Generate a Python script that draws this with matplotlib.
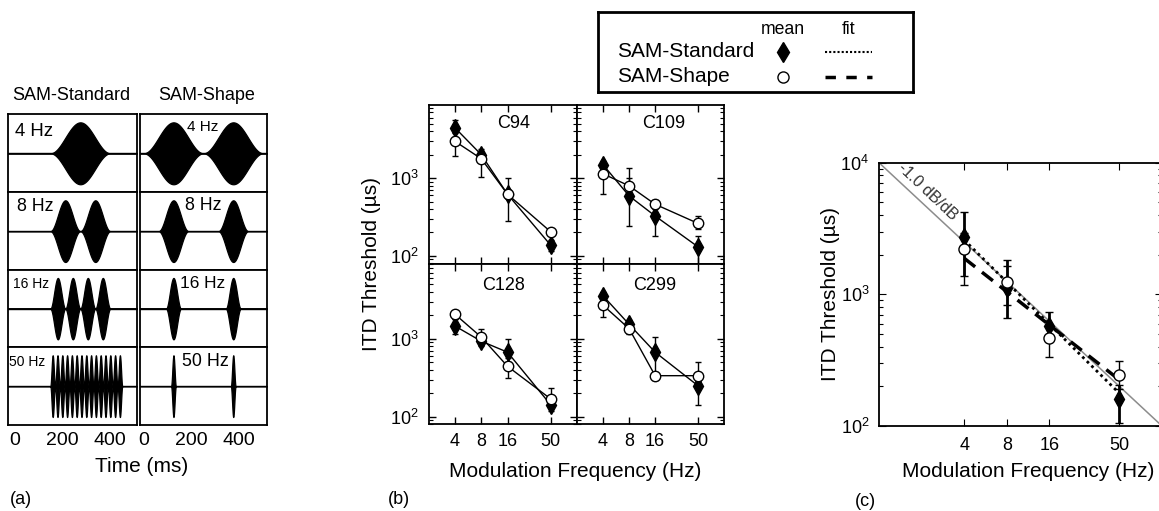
import numpy as np
import matplotlib
matplotlib.use("Agg")
import matplotlib.pyplot as plt
from matplotlib.ticker import FixedLocator, NullLocator, NullFormatter, FixedFormatter, LogLocator

plt.rcParams['font.family'] = ['Liberation Sans', 'DejaVu Sans']
plt.rcParams['mathtext.default'] = 'regular'

W, H = 1159, 511

# ---- panel (a): stimulus parameters ----
rates = [4, 8, 16, 50]
rate_labels = ['4 Hz', '8 Hz', '16 Hz', '50 Hz']
std_onset = 150          # ms
std_cycles = [1, 2, 4, 15]
shape_centers = [125, 375]  # ms

# ---- panel (b): per-subject ITD thresholds (us) ----
freqs = [4, 8, 16, 50]
subjects = ['C94', 'C109', 'C128', 'C299']

std_mean = {'C94': [4430, 2000, 620, 137], 'C109': [1486, 590, 326, 131],
            'C128': [1455, 930, 672, 142], 'C299': [3550, 1530, 672, 250]}
std_lo = {'C94': [3800, 1700, 560, 115], 'C109': [1300, 242, 180, 70],
          'C128': [1150, 800, 500, 120], 'C299': [3100, 1300, 336, 142]}
std_hi = {'C94': [5660, 2370, 700, 160], 'C109': [1650, 1345, 420, 180],
          'C128': [1800, 1050, 990, 160], 'C299': [4000, 1750, 1060, 290]}

shp_mean = {'C94': [2970, 1775, 620, 204], 'C109': [1136, 795, 461, 262],
            'C128': [2060, 1050, 443, 169], 'C299': [2690, 1347, 336, 336]}
shp_lo = {'C94': [1900, 1030, 285, 185], 'C109': [627, 600, 400, 220],
          'C128': [1800, 900, 313, 150], 'C299': [1900, 1150, 300, 290]}
shp_hi = {'C94': [3400, 2100, 1000, 225], 'C109': [1300, 1000, 520, 326],
          'C128': [2300, 1320, 560, 237], 'C299': [3000, 1500, 380, 499]}

# ---- panel (c): group means ----
c_std_mean = [2750, 1110, 575, 161]
c_std_lo = [1380, 658, 450, 106]
c_std_hi = [4250, 1823, 740, 205]
c_shp_mean = [2200, 1250, 465, 244]
c_shp_lo = [1178, 830, 336, 190]
c_shp_hi = [2900, 1650, 600, 314]
fit_x = [4, 50]
c_std_fit = [2590, 177]
c_shp_fit = [1880, 224]
ref_x = [1, 100]
ref_y = [1e4, 1e2]


def box(x0, y0, x1, y1):
    return [x0 / W, 1 - y1 / H, (x1 - x0) / W, (y1 - y0) / H]


def ftext(x, y, s, **kw):
    fig.text(x / W, 1 - y / H, s, **kw)


fig = plt.figure(figsize=(W / 100, H / 100), dpi=100)

# ================= panel (a) =================
rows_a = [(114.3, 192.3), (192.3, 270), (270, 347.3), (347.3, 425)]
cols_a = [(8.3, 136.7), (140, 266.7)]
xlims_a = [(-25, 510), (-15, 515)]
t = np.linspace(-30, 520, 30000)

for c, (x0, x1) in enumerate(cols_a):
    for r, (y0, y1) in enumerate(rows_a):
        ax = fig.add_axes(box(x0, y0, x1, y1))
        f = rates[r]
        env = np.zeros_like(t)
        if c == 0:
            t_end = std_onset + std_cycles[r] * 1000.0 / f
            m = (t >= std_onset) & (t <= t_end)
            env[m] = (1 - np.cos(2 * np.pi * f * (t[m] - std_onset) / 1000)) / 2
        else:
            for tc in shape_centers:
                m = np.abs(t - tc) <= 500.0 / f
                env[m] = (1 + np.cos(2 * np.pi * f * (t[m] - tc) / 1000)) / 2
        ax.fill_between(t, -env, env, color='k', lw=0.9)
        ax.axhline(0, color='k', lw=1)
        ax.set_xlim(*xlims_a[c])
        ax.set_ylim(-1.26, 1.26)
        ax.set_yticks([])
        ax.tick_params(length=0, labelsize=14, pad=5)
        if r == 3:
            ax.set_xticks([0, 200, 400])
        else:
            ax.set_xticks([])
        for s in ax.spines.values():
            s.set_linewidth(1.3)

# rate labels in panel (a)
left_lab = [(15, 131.7, 13.4), (16.7, 206.7, 12.8), (13.3, 284, 10), (9.3, 361.7, 10)]
right_lab = [(202.5, 126.7, 11), (203.3, 205.7, 12.8), (202.5, 283.3, 12.4), (205, 361.7, 12.9)]
for lab, (x, y, fs) in zip(rate_labels, left_lab):
    ftext(x, y, lab, fontsize=fs, ha='left', va='center')
for lab, (x, y, fs) in zip(rate_labels, right_lab):
    ftext(x, y, lab, fontsize=fs, ha='center', va='center')

ftext(70.8, 95, 'SAM-Standard', fontsize=13, ha='center', va='center')
ftext(206.5, 95, 'SAM-Shape', fontsize=13, ha='center', va='center')
ftext(141.7, 466, 'Time (ms)', fontsize=15, ha='center', va='center')
ftext(10, 499, '(a)', fontsize=13, ha='left', va='center')

# ================= panel (b) =================
cols_b = [(428.7, 577), (577, 724)]
rows_b = [(105, 264.3), (264.3, 424.3)]
ylims_b = [(78, 8700), (80, 9000)]
name_pos = {'C94': (0.57, 0.885), 'C109': (0.587, 0.885),
            'C128': (0.503, 0.87), 'C299': (0.53, 0.87)}

for i, subj in enumerate(subjects):
    r, c = divmod(i, 2)
    ax = fig.add_axes(box(cols_b[c][0], rows_b[r][0], cols_b[c][1], rows_b[r][1]))
    ax.set_xscale('log')
    ax.set_yscale('log')
    for mean, lo, hi, mk, fc, ms in [(std_mean[subj], std_lo[subj], std_hi[subj], 'd', 'k', 9),
                                     (shp_mean[subj], shp_lo[subj], shp_hi[subj], 'o', 'white', 7.5)]:
        mean = np.array(mean, float)
        err = [mean - np.array(lo), np.array(hi) - mean]
        ax.errorbar(freqs, mean, yerr=err, fmt='none', ecolor='k', elinewidth=1, capsize=2, capthick=1)
        ax.plot(freqs, mean, color='k', lw=1, marker=mk, ms=ms, mfc=fc, mec='k', mew=1)
    ax.set_xlim(2, 100)
    ax.set_ylim(*ylims_b[r])
    ax.xaxis.set_major_locator(FixedLocator(freqs))
    ax.xaxis.set_major_formatter(FixedFormatter([str(f) for f in freqs]))
    ax.xaxis.set_minor_locator(NullLocator())
    ax.yaxis.set_major_locator(LogLocator(base=10))
    ax.yaxis.set_minor_locator(LogLocator(base=10, subs=np.arange(2, 10)))
    ax.yaxis.set_minor_formatter(NullFormatter())
    ax.tick_params(which='both', direction='in', top=True, right=True, labelsize=13)
    ax.tick_params(which='major', length=5, width=1)
    ax.tick_params(which='minor', length=3, width=0.8)
    ax.tick_params(axis='x', pad=6)
    ax.tick_params(axis='y', pad=7)
    if r == 0:
        ax.tick_params(labelbottom=False)
    if c == 1:
        ax.tick_params(labelleft=False)
    for s in ax.spines.values():
        s.set_linewidth(1.3)
    ax.text(*name_pos[subj], subj, transform=ax.transAxes, fontsize=13, ha='center', va='center')

ftext(371.7, 264.3, 'ITD Threshold (µs)', fontsize=15, rotation=90, ha='center', va='center')
ftext(575, 471.7, 'Modulation Frequency (Hz)', fontsize=15, ha='center', va='center')
ftext(388, 500, '(b)', fontsize=13, ha='left', va='center')

# ================= panel (c) =================
axc = fig.add_axes(box(879, 162.7, 1162, 426))
axc.set_xscale('log')
axc.set_yscale('log')
axc.plot(ref_x, ref_y, color='#8c8c8c', lw=1.1)
axc.plot(fit_x, c_std_fit, color='k', lw=2, ls=(0, (1, 1.3)))
axc.plot(fit_x, c_shp_fit, color='k', lw=2.5, ls=(0, (4, 2.5)))
m = np.array(c_std_mean, float)
axc.errorbar(freqs, m, yerr=[m - np.array(c_std_lo), np.array(c_std_hi) - m], fmt='none',
             ecolor='k', elinewidth=2, capsize=3, capthick=1)
axc.plot(freqs, m, ls='none', marker='d', ms=9, mfc='k', mec='k')
m = np.array(c_shp_mean, float)
axc.errorbar(freqs, m, yerr=[m - np.array(c_shp_lo), np.array(c_shp_hi) - m], fmt='none',
             ecolor='k', elinewidth=1, capsize=3, capthick=1)
axc.plot(freqs, m, ls='none', marker='o', ms=8, mfc='white', mec='k', mew=1)
axc.set_xlim(1, 100)
axc.set_ylim(100, 10000)
axc.xaxis.set_major_locator(FixedLocator(freqs))
axc.xaxis.set_major_formatter(FixedFormatter([str(f) for f in freqs]))
axc.xaxis.set_minor_locator(NullLocator())
axc.yaxis.set_minor_formatter(NullFormatter())
axc.tick_params(which='both', direction='in', top=True, right=True, labelsize=13)
axc.tick_params(which='major', length=5)
axc.tick_params(which='minor', length=3, width=0.8)
axc.tick_params(axis='x', pad=8)
axc.tick_params(axis='y', pad=7)
for s in axc.spines.values():
    s.set_linewidth(1.3)
axc.text(2.2, 6000, '-1.0 dB/dB', fontsize=11.5, rotation=-43.3, rotation_mode='anchor',
         ha='center', va='center', color='#333333')

ftext(830, 294, 'ITD Threshold (µs)', fontsize=15, rotation=90, ha='center', va='center')
ftext(1028, 471.7, 'Modulation Frequency (Hz)', fontsize=15, ha='center', va='center')
ftext(855, 501.7, '(c)', fontsize=13, ha='left', va='center')

# ================= legend box =================
axl = fig.add_axes(box(598, 12.3, 913.3, 92.3))
axl.set_xlim(598, 913.3)
axl.set_ylim(92.3, 12.3)
axl.set_xticks([])
axl.set_yticks([])
for s in axl.spines.values():
    s.set_linewidth(2)
axl.text(782.7, 29.3, 'mean', fontsize=12.7, ha='center', va='center')
axl.text(848.3, 29.3, 'fit', fontsize=12.7, ha='center', va='center')
axl.text(616.7, 51.7, 'SAM-Standard', fontsize=15, ha='left', va='center')
axl.text(616.7, 76, 'SAM-Shape', fontsize=15, ha='left', va='center')
axl.plot([783.3], [52], marker='d', ms=10, color='k')
axl.plot([783.3], [77], marker='o', ms=8, mfc='white', mec='k', mew=1)
axl.plot([825, 871.7], [52, 52], color='k', lw=1.5, ls=(0, (1, 1)))
axl.plot([825, 871.7], [77, 77], color='k', lw=2.5, ls=(0, (3, 3)))

fig.savefig('out.png', dpi=100)
